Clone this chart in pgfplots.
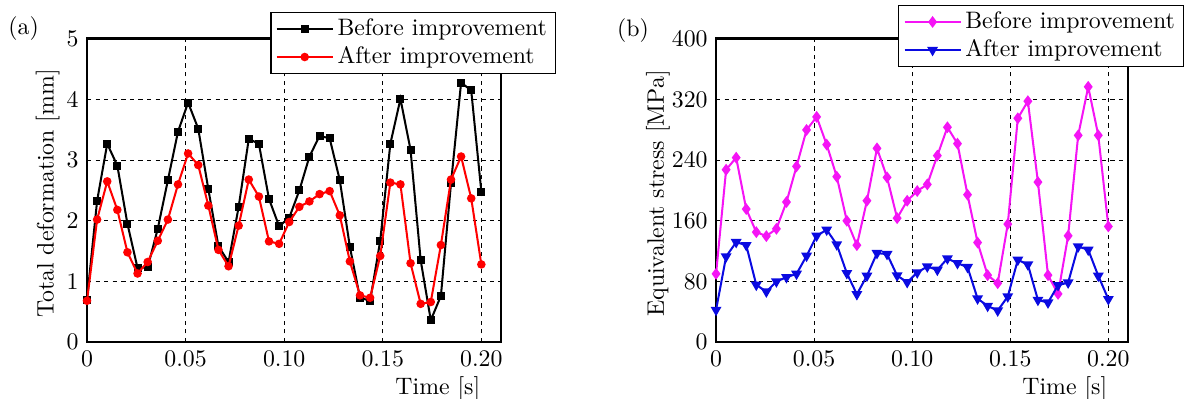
\documentclass[border=0pt]{standalone}
\usepackage{pgfplots}
\usepackage{pgfplotstable}
\pgfplotsset{compat=1.18}
\definecolor{mymag}{RGB}{245,20,245}
\definecolor{myblue}{RGB}{10,10,225}
\pgfplotstableread{
t before after
0.00000 0.70 0.68
0.00513 2.33 2.02
0.01026 3.27 2.65
0.01538 2.91 2.18
0.02051 1.95 1.48
0.02564 1.22 1.13
0.03077 1.23 1.32
0.03590 1.87 1.67
0.04103 2.67 2.02
0.04615 3.47 2.60
0.05128 3.95 3.11
0.05641 3.52 2.92
0.06154 2.52 2.25
0.06667 1.58 1.52
0.07179 1.32 1.25
0.07692 2.23 1.92
0.08205 3.35 2.68
0.08718 3.27 2.40
0.09231 2.36 1.66
0.09744 1.91 1.62
0.10256 2.05 1.98
0.10769 2.50 2.23
0.11282 3.06 2.32
0.11795 3.40 2.44
0.12308 3.36 2.49
0.12821 2.67 2.09
0.13333 1.57 1.33
0.13846 0.73 0.77
0.14359 0.68 0.73
0.14872 1.67 1.42
0.15385 3.27 2.63
0.15897 4.01 2.60
0.16410 3.17 1.30
0.16923 1.35 0.63
0.17436 0.36 0.66
0.17949 0.76 1.60
0.18462 2.62 2.68
0.18974 4.28 3.06
0.19487 4.15 2.37
0.20000 2.48 1.28
}\deform
\pgfplotstableread{
t before after
0.00000 90.0 42.3
0.00513 227.4 112.8
0.01026 243.3 131.8
0.01538 175.5 127.8
0.02051 145.0 75.4
0.02564 139.8 66.5
0.03077 149.4 79.8
0.03590 184.7 85.5
0.04103 231.8 89.9
0.04615 279.9 113.7
0.05128 297.1 140.2
0.05641 260.5 148.1
0.06154 218.2 128.7
0.06667 160.0 90.8
0.07179 127.8 63.0
0.07692 186.4 87.3
0.08205 255.6 117.3
0.08718 217.3 116.0
0.09231 163.5 87.7
0.09744 186.4 78.9
0.10256 199.3 91.7
0.10769 208.0 99.6
0.11282 246.0 95.2
0.11795 283.4 110.2
0.12308 261.8 104.0
0.12821 194.4 98.8
0.13333 131.3 57.3
0.13846 88.2 47.6
0.14359 77.6 41.4
0.14872 155.6 60.0
0.15385 295.3 108.4
0.15897 317.8 102.2
0.16410 211.1 55.5
0.16923 88.2 52.0
0.17436 63.5 75.0
0.17949 140.2 78.4
0.18462 272.8 126.0
0.18974 336.8 121.7
0.19487 272.8 87.3
0.20000 152.5 56.5
}\stress
\pgfplotsset{
  common/.style={
    scale only axis,
    height=127.3pt,
    xmin=0, xmax=0.21,
    xtick={0,0.05,0.1,0.15,0.2},
    xticklabels={0,0.05,0.10,0.15,0.20},
    grid=major,
    grid style={dash pattern=on 1.8pt off 1.8pt, black, line width=0.4pt},
    axis line style={line width=1.2pt},
    major tick length=0pt,
    tick label style={font=\normalsize},
    clip mode=individual,
    xlabel={Time [s]},
    xlabel style={at={(rel axis cs:0.97,0)}, anchor=north east, yshift=-10.9pt},
    legend cell align=left,
    legend image code/.code={\draw[mark repeat=2,mark phase=2,##1] plot coordinates {(0pt,0pt) (11.75pt,0pt) (23.5pt,0pt)};},
  },
  lg/.style={legend style={at={#1}, anchor=north east, draw=black, line width=0.5pt, fill=white, font=\normalsize, inner xsep=2pt, inner ysep=1pt, nodes={inner sep=1.6pt}}},
}
\begin{document}
\begin{tikzpicture}
\useasboundingbox (-36.54pt,-23.52pt) rectangle (463.26pt,143.64pt);
\begin{axis}[common, at={(0,0)}, width=173.9pt,
  ymin=0, ymax=5, ytick={0,1,2,3,4,5},
  ylabel={Total deformation [mm]},
  ylabel style={at={(rel axis cs:-0.046,0.49)}, anchor=south},
  lg={(rel axis cs:1.133,1.089)}]
\addplot[black, line width=0.85pt, mark=square*, mark size=1.25pt] table[x=t, y=before] {\deform};
\addlegendentry{Before improvement}
\addplot[red, line width=0.85pt, mark=*, mark size=1.35pt] table[x=t, y=after] {\deform};
\addlegendentry{After improvement}
\node at (rel axis cs:-0.153,1.033) {(a)};
\end{axis}
\begin{axis}[common, at={(264.2pt,0)}, width=173.0pt,
  ymin=0, ymax=400, ytick={0,80,160,240,320,400},
  ylabel={Equivalent stress [MPa]},
  ylabel style={at={(rel axis cs:-0.092,0.49)}, anchor=south},
  lg={(rel axis cs:1.136,1.112)}]
\addplot[mymag, line width=0.85pt, mark=diamond*, mark size=1.8pt] table[x=t, y=before] {\stress};
\addlegendentry{Before improvement}
\addplot[myblue, line width=0.85pt, mark=triangle*, mark options={rotate=180}, mark size=1.8pt] table[x=t, y=after] {\stress};
\addlegendentry{After improvement}
\node at (rel axis cs:-0.2015,1.026) {(b)};
\end{axis}
\end{tikzpicture}
\end{document}
